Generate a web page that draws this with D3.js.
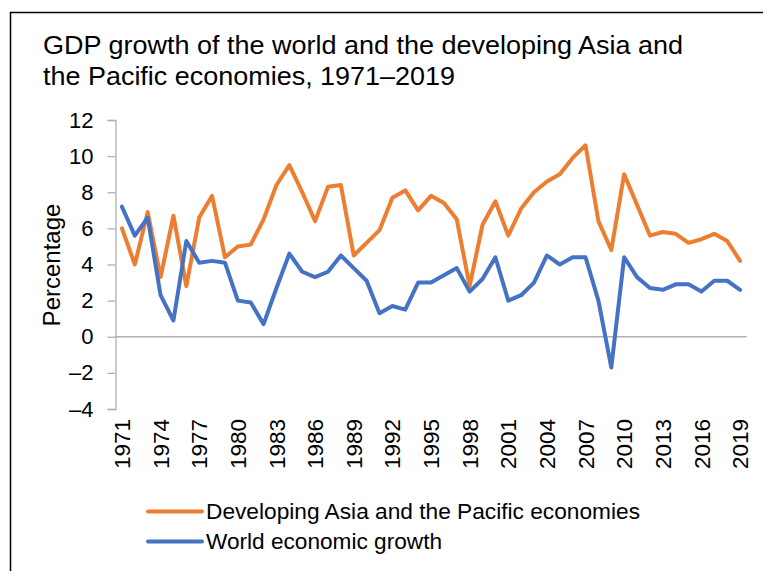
<!DOCTYPE html>
<html>
<head>
<meta charset="utf-8">
<script src="https://cdn.jsdelivr.net/npm/d3@7"></script>
<style>
	body { margin: 0; background: #fff; }
	text { font-family: "Liberation Sans", Arial, sans-serif; fill: #000; }
</style>
</head>
<body>
<svg id="chart" width="763" height="571"></svg>
<script>

var years = d3.range(1971, 2020);

var asiaGrowth = [
	6.0, 4.0, 6.9, 3.3, 6.7, 2.8, 6.6, 7.8, 4.4, 5.0,
	5.1, 6.5, 8.4, 9.5, 8.0, 6.4, 8.3, 8.4, 4.5, 5.2,
	5.9, 7.7, 8.1, 7.0, 7.8, 7.4, 6.5, 2.8, 6.2, 7.5,
	5.6, 7.1, 8.0, 8.6, 9.0, 9.9, 10.6, 6.4, 4.8, 9.0,
	7.3, 5.6, 5.8, 5.7, 5.2, 5.4, 5.7, 5.3, 4.2
];

var worldGrowth = [
	7.2, 5.6, 6.6, 2.3, 0.9, 5.3, 4.1, 4.2, 4.1, 2.0,
	1.9, 0.7, 2.7, 4.6, 3.6, 3.3, 3.6, 4.5, 3.8, 3.1,
	1.3, 1.7, 1.5, 3.0, 3.0, 3.4, 3.8, 2.5, 3.2, 4.4,
	2.0, 2.3, 3.0, 4.5, 4.0, 4.4, 4.4, 2.0, -1.7, 4.4,
	3.3, 2.7, 2.6, 2.9, 2.9, 2.5, 3.1, 3.1, 2.6
];

var yTicks = [-4, -2, 0, 2, 4, 6, 8, 10, 12];
var xTickYears = d3.range(1971, 2020, 3);

var series = [
	{ name: "Developing Asia and the Pacific economies", values: asiaGrowth, color: "#ED7D31", len: 434 },
	{ name: "World economic growth", values: worldGrowth, color: "#4472C4", len: 236 }
];

var titleLines = [
	{ text: "GDP growth of the world and the developing Asia and", len: 640 },
	{ text: "the Pacific economies, 1971\u20132019", len: 412 }
];

function fmt(d) {
	return d < 0 ? "\u2013" + Math.abs(d) : String(d);
}

function main() {

	var svg = d3.select("#chart");

	// outer frame, cut off on the right and bottom like the source
	svg.append("rect")
		.attr("x", 10.5)
		.attr("y", 12.5)
		.attr("width", 800)
		.attr("height", 600)
		.attr("fill", "none")
		.attr("stroke", "#000")
		.attr("stroke-width", 1.5);

	svg.selectAll(".title")
		.data(titleLines)
		.enter().append("text")
		.attr("class", "title")
		.attr("x", 43)
		.attr("y", function(d, i) { return 54 + i * 31; })
		.attr("font-size", 25.5)
		.attr("textLength", function(d) { return d.len; })
		.attr("lengthAdjust", "spacingAndGlyphs")
		.text(function(d) { return d.text; });

	var x = d3.scaleBand()
		.domain(years)
		.range([115.5, 746.5]);

	var y = d3.scaleLinear()
		.domain([-4, 12])
		.range([409, 120]);

	var cx = function(yr) { return x(yr) + x.bandwidth() / 2; };

	// y axis
	var yAxis = svg.append("g")
		.attr("transform", "translate(115.5,0)")
		.call(d3.axisLeft(y).tickValues(yTicks).tickSize(8).tickPadding(14).tickFormat(fmt));

	yAxis.select(".domain").attr("stroke", "#b0b0b0").attr("stroke-width", 1.3);
	yAxis.selectAll(".tick line").attr("stroke", "#b0b0b0").attr("stroke-width", 1.3);
	yAxis.selectAll(".tick text")
		.attr("font-size", 22)
		.attr("font-family", "Liberation Sans, Arial, sans-serif")
		.attr("fill", "#000");

	// zero line / category axis
	svg.append("line")
		.attr("x1", 115.5)
		.attr("x2", 746.5)
		.attr("y1", y(0))
		.attr("y2", y(0))
		.attr("stroke", "#b0b0b0")
		.attr("stroke-width", 1.3);

	// x labels, rotated, placed below the plot
	svg.selectAll(".xlab")
		.data(xTickYears)
		.enter().append("text")
		.attr("class", "xlab")
		.attr("font-size", 22.5)
		.attr("text-anchor", "end")
		.attr("dy", "0.36em")
		.attr("transform", function(d) { return "translate(" + cx(d) + ",419) rotate(-90)"; })
		.text(function(d) { return d; });

	svg.append("text")
		.attr("font-size", 24)
		.attr("text-anchor", "middle")
		.attr("transform", "translate(60,265) rotate(-90)")
		.text("Percentage");

	var line = d3.line()
		.x(function(d, i) { return cx(years[i]); })
		.y(function(d) { return y(d); });

	svg.selectAll(".series")
		.data(series)
		.enter().append("path")
		.attr("class", "series")
		.attr("d", function(s) { return line(s.values); })
		.attr("fill", "none")
		.attr("stroke", function(s) { return s.color; })
		.attr("stroke-width", 4)
		.attr("stroke-linejoin", "round")
		.attr("stroke-linecap", "round");

	// legend
	var legend = svg.selectAll(".legend")
		.data(series)
		.enter().append("g")
		.attr("class", "legend")
		.attr("transform", function(s, i) { return "translate(0," + (511.5 + i * 30) + ")"; });

	legend.append("line")
		.attr("x1", 148)
		.attr("x2", 202)
		.attr("stroke", function(s) { return s.color; })
		.attr("stroke-width", 4)
		.attr("stroke-linecap", "round");

	legend.append("text")
		.attr("x", 206)
		.attr("dy", "0.36em")
		.attr("font-size", 22)
		.attr("textLength", function(s) { return s.len; })
		.attr("lengthAdjust", "spacingAndGlyphs")
		.text(function(s) { return s.name; });
}

main();
</script>
</body>
</html>
